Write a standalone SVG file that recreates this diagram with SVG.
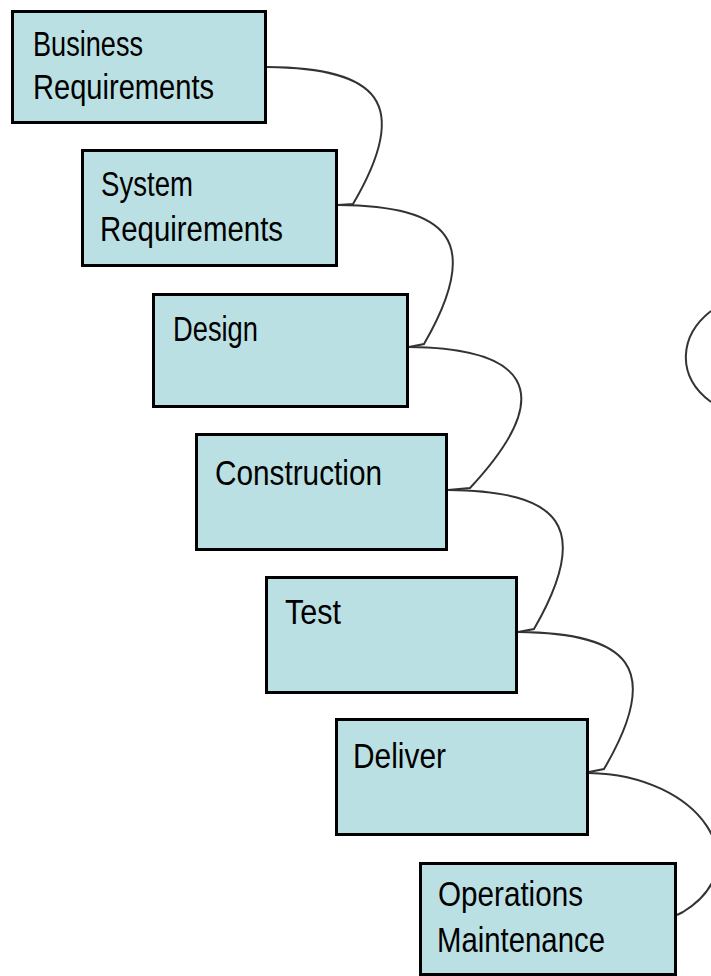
<svg xmlns="http://www.w3.org/2000/svg" width="711" height="976" viewBox="0 0 711 976">
<style>
.box{fill:#bbe0e3;stroke:#000;stroke-width:3}
.lbl{font-family:"Liberation Sans",Arial,sans-serif;font-size:35px;fill:#000}
.con{fill:none;stroke:#333;stroke-width:2}
</style>
<rect width="711" height="976" fill="#fff"/>
<g id="connectors">
<path class="con" d="M267,67 C378,68 413,102 353,204 L338,205"/>
<path class="con" d="M338,205 C449,206 484,240 424,344 L409,347"/>
<path class="con" d="M409,347 C520,348 564,387 470,488 L448,490"/>
<path class="con" d="M448,490 C559,491 594,525 534,629 L518,632"/>
<path class="con" d="M518,632 C629,633 664,667 604,769 L589,772"/>
<path class="con" d="M589,773 C700,775 760,865 683,912 L677,915"/>
<path class="con" d="M711,311 C680,335 675,375 711,402"/>
</g>
<g id="n1"><rect class="box" x="12.5" y="11.5" width="253" height="111"/>
<text class="lbl" x="33" y="56" textLength="110" lengthAdjust="spacingAndGlyphs">Business</text>
<text class="lbl" x="33" y="99" textLength="181" lengthAdjust="spacingAndGlyphs">Requirements</text></g>
<g id="n2"><rect class="box" x="82.5" y="150.5" width="254" height="115"/>
<text class="lbl" x="101" y="196" textLength="92" lengthAdjust="spacingAndGlyphs">System</text>
<text class="lbl" x="100" y="241" textLength="183" lengthAdjust="spacingAndGlyphs">Requirements</text></g>
<g id="n3"><rect class="box" x="153.5" y="294.5" width="254" height="112"/>
<text class="lbl" x="173" y="341" textLength="85" lengthAdjust="spacingAndGlyphs">Design</text></g>
<g id="n4"><rect class="box" x="196.5" y="434.5" width="250" height="115"/>
<text class="lbl" x="215" y="485" textLength="167" lengthAdjust="spacingAndGlyphs">Construction</text></g>
<g id="n5"><rect class="box" x="266.5" y="577.5" width="250" height="115"/>
<text class="lbl" x="285" y="624" textLength="56" lengthAdjust="spacingAndGlyphs">Test</text></g>
<g id="n6"><rect class="box" x="336.5" y="719.5" width="251" height="115"/>
<text class="lbl" x="353" y="768" textLength="93" lengthAdjust="spacingAndGlyphs">Deliver</text></g>
<g id="n7"><rect class="box" x="420.5" y="863.5" width="255" height="111"/>
<text class="lbl" x="438" y="906" textLength="145" lengthAdjust="spacingAndGlyphs">Operations</text>
<text class="lbl" x="437" y="952" textLength="168" lengthAdjust="spacingAndGlyphs">Maintenance</text></g>
</svg>
